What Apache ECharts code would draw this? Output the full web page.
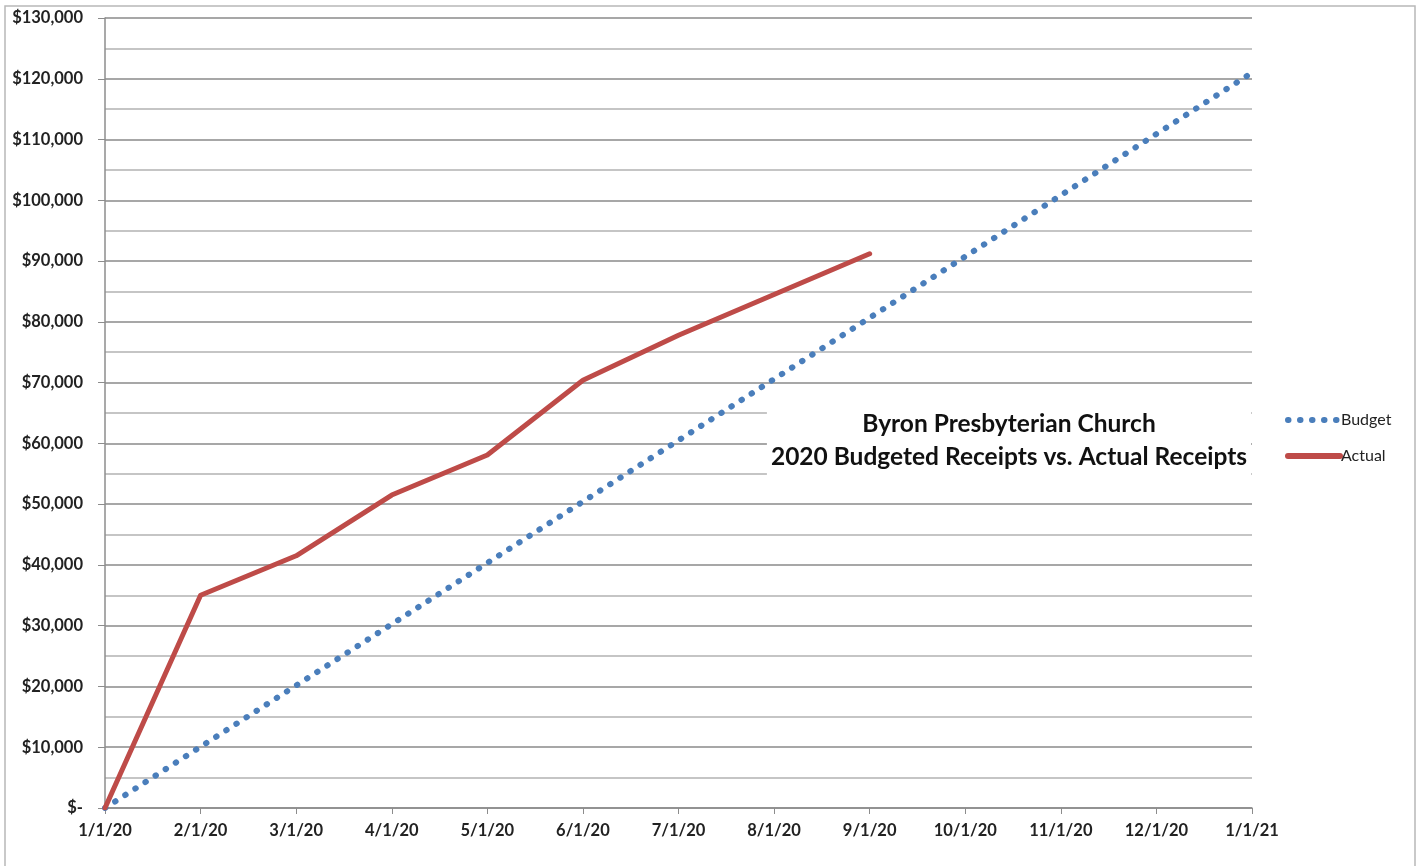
<!DOCTYPE html>
<html>
<head>
<meta charset="utf-8">
<script src="https://cdn.jsdelivr.net/npm/echarts@6/dist/echarts.min.js"></script>
<style>
  html, body { margin: 0; padding: 0; background: #fff; }
  #receipts-chart { width: 1422px; height: 866px; }
</style>
</head>
<body>
<div id="receipts-chart"></div>
<script>
// month starts shown on the x axis
var months = ["1/1/20", "2/1/20", "3/1/20", "4/1/20", "5/1/20", "6/1/20", "7/1/20",
  "8/1/20", "9/1/20", "10/1/20", "11/1/20", "12/1/20", "1/1/21"];
// cumulative budgeted receipts (straight line to ~121k)
var budget = [0, 10083, 20167, 30250, 40333, 50417, 60500, 70583, 80667, 90750, 100833, 110917, 121000];
// cumulative actual receipts, only through 9/1/20
var actual = [0, 35000, 41500, 51500, 58100, 70400, 77800, 84500, 91200];

var font = "Lato";
var colors = ["#4a7ebb", "#be4b48"];

var chart = echarts.init(document.getElementById("receipts-chart"));

var option = {
  color: colors,
  animation: false,
  textStyle: { fontFamily: font },
  title: {
    text: "Byron Presbyterian Church\n2020 Budgeted Receipts vs. Actual Receipts",
    left: 1005,
    top: 402,
    backgroundColor: "#fff",
    padding: [6, 4, 8, 4],
    textAlign: "center",
    textStyle: {
      fontFamily: font,
      fontSize: 24.5,
      fontWeight: "bold",
      color: "#111",
      lineHeight: 33
    }
  },
  legend: {
    orient: "vertical",
    left: 1280,
    top: 407,
    itemWidth: 52,
    itemHeight: 8,
    itemGap: 20,
    itemStyle: { opacity: 0 },
    lineStyle: { width: 6 },
    textStyle: { fontFamily: font, fontSize: 16, color: "#222", padding: [0, 0, 0, -4] },
    data: ["Budget", "Actual"]
  },
  grid: {
    left: 105,
    right: 170,
    top: 18,
    bottom: 58,
    containLabel: false
  },
  xAxis: {
    type: "category",
    boundaryGap: false,
    data: months,
    axisLine: { lineStyle: { color: "#8c8c8c", width: 1.5 } },
    axisTick: { show: true, length: 6, lineStyle: { color: "#8c8c8c" } },
    axisLabel: {
      margin: 14,
      fontFamily: font,
      fontSize: 16.5,
      fontWeight: "bold",
      color: "#222"
    },
    splitLine: { show: false }
  },
  yAxis: {
    type: "value",
    min: 0,
    max: 130000,
    interval: 10000,
    axisLine: { show: true, lineStyle: { color: "#8c8c8c", width: 1.5 } },
    axisTick: { show: true, length: 7, lineStyle: { color: "#8c8c8c" } },
    minorTick: { show: false, splitNumber: 2 },
    axisLabel: {
      margin: 22,
      fontFamily: font,
      fontSize: 16.5,
      fontWeight: "bold",
      color: "#222",
      formatter: function (v) {
        if (v === 0) return "$-";
        return "$" + v.toLocaleString("en-US");
      }
    },
    splitLine: { show: true, lineStyle: { color: "#8a8a8a", width: 1.5 } },
    minorSplitLine: { show: true, lineStyle: { color: "#b3b3b3", width: 1.5 } }
  },
  series: [
    {
      name: "Budget",
      type: "line",
      data: budget,
      symbol: "none",
      z: 3,
      lineStyle: { color: colors[0], width: 6, type: [0.5, 11.5], cap: "round" }
    },
    {
      name: "Actual",
      type: "line",
      data: actual,
      symbol: "none",
      z: 4,
      lineStyle: { color: colors[1], width: 5, cap: "round", join: "round" }
    }
  ],
  graphic: [
    {
      type: "rect",
      shape: { x: 5, y: 6, width: 1410, height: 870 },
      style: { fill: "none", stroke: "#b8b8b8", lineWidth: 1.5 },
      silent: true
    }
  ]
};

chart.setOption(option);
</script>
</body>
</html>
